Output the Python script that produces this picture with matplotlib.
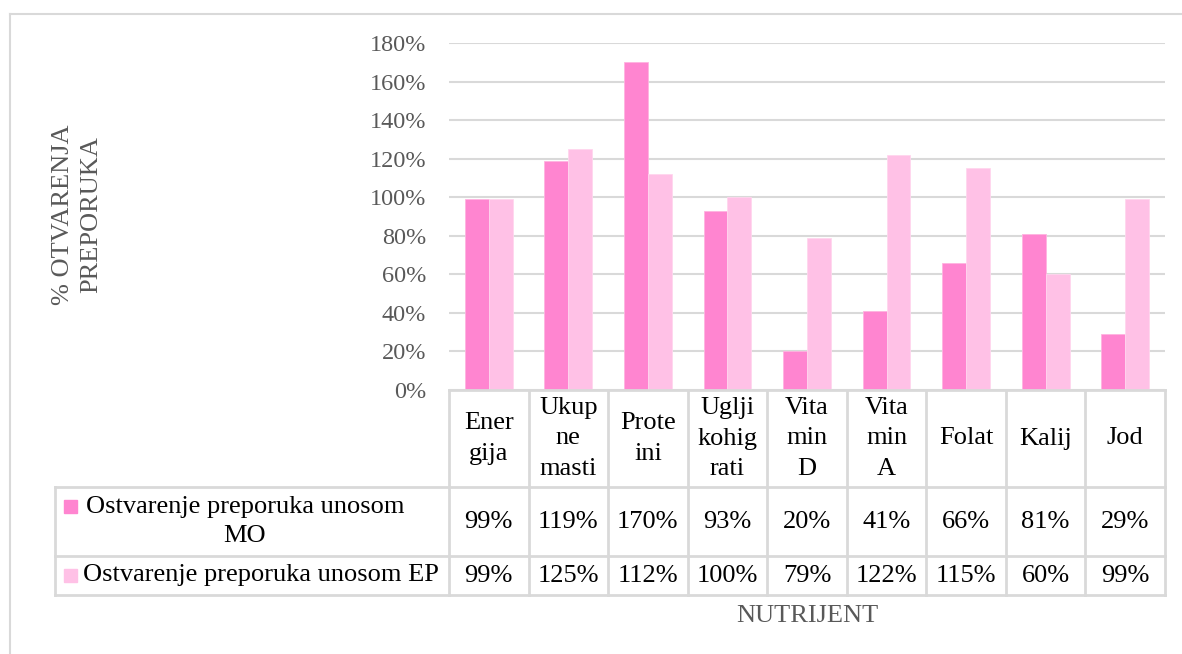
import numpy as np
import matplotlib.pyplot as plt
import matplotlib.transforms as mtransforms
from matplotlib.lines import Line2D
from matplotlib.patches import Rectangle

plt.rcParams['font.family'] = ['Liberation Serif', 'DejaVu Serif']

categories = ['Ener\ngija', 'Ukup\nne\nmasti', 'Prote\nini', 'Uglji\nkohig\nrati',
              'Vita\nmin\nD', 'Vita\nmin\nA', 'Folat', 'Kalij', 'Jod']
mo_values = [99, 119, 170, 93, 20, 41, 66, 81, 29]
ep_values = [99, 125, 112, 100, 79, 122, 115, 60, 99]
series_names = ['Ostvarenje preporuka unosom\nMO', 'Ostvarenje preporuka unosom EP']
y_ticks = [0, 20, 40, 60, 80, 100, 120, 140, 160, 180]

c_mo = '#FF85D0'
c_ep = '#FFC1E6'
c_grid = '#D9D9D9'
c_grey = '#595959'

W, H = 1182, 654
fig = plt.figure(figsize=(W / 100, H / 100), dpi=100)

def fx(px):
    return px / W

def fy(py):
    return 1 - py / H

# plot area
ax = fig.add_axes([fx(449), fy(390), fx(1165) - fx(449), fy(43) - fy(390)])
x = np.arange(len(categories))
bw = 0.3
ax.bar(x - bw / 2, mo_values, bw, color=c_mo, edgecolor='#FFB3E0', linewidth=0.6, zorder=3)
ax.bar(x + bw / 2, ep_values, bw, color=c_ep, edgecolor='#FFD6EE', linewidth=0.6, zorder=3)
ax.set_xlim(-0.5, len(categories) - 0.5)
ax.set_ylim(0, 180)
ax.set_yticks(y_ticks)
ax.set_yticklabels([f'{v}%' for v in y_ticks])
ax.yaxis.grid(True, color=c_grid, linewidth=1.5, zorder=0)
ax.set_xticks([])
ax.tick_params(axis='y', length=0, pad=16.5, labelsize=17.5, labelcolor=c_grey)
for s in ax.spines.values():
    s.set_visible(False)

# outer chart frame
fig.add_artist(Line2D([fx(10), 1], [fy(14), fy(14)], color=c_grid, lw=1.5))
fig.add_artist(Line2D([fx(10), fx(10)], [fy(14), 0], color=c_grid, lw=1.5))

# data table under the plot
tr = mtransforms.blended_transform_factory(ax.transData, fig.transFigure)
row_y = [fy(390), fy(487), fy(556), fy(595)]
n = len(categories)
tab_kw = dict(color=c_grid, lw=2)
# horizontal lines
fig.add_artist(Line2D([-0.5, n - 0.5], [row_y[0], row_y[0]], transform=tr, **tab_kw))
for yy in row_y[1:]:
    fig.add_artist(Line2D([fx(55), fx(1165)], [yy, yy], **tab_kw))
# vertical lines
for i in range(n + 1):
    fig.add_artist(Line2D([i - 0.5, i - 0.5], [row_y[0], row_y[3]], transform=tr, **tab_kw))
fig.add_artist(Line2D([fx(55), fx(55)], [row_y[1], row_y[3]], **tab_kw))

fs = 19
for i, lab in enumerate(categories):
    fig.text(i, (row_y[0] + row_y[1]) / 2, lab, transform=tr, ha='center', va='center',
             fontsize=fs, linespacing=1.5)
    fig.text(i, (row_y[1] + row_y[2]) / 2, f'{mo_values[i]}%', transform=tr,
             ha='center', va='center', fontsize=fs)
    fig.text(i, (row_y[2] + row_y[3]) / 2, f'{ep_values[i]}%', transform=tr,
             ha='center', va='center', fontsize=fs)

# legend keys in the table
fig.add_artist(Rectangle((fx(64), fy(513)), fx(13), fy(500) - fy(513), color=c_mo))
fig.add_artist(Rectangle((fx(64), fy(582)), fx(13), fy(569) - fy(582), color=c_ep))
fig.text(fx(245), (row_y[1] + row_y[2]) / 2, series_names[0], ha='center', va='center',
         fontsize=fs, linespacing=1.45)
fig.text(fx(83), (row_y[2] + row_y[3]) / 2, series_names[1], ha='left', va='center',
         fontsize=fs)

# axis titles
fig.text(fx(77), fy(215), '% OTVARENJA\nPREPORUKA', rotation=90, ha='center', va='center',
         fontsize=19, color=c_grey, linespacing=1.4)
fig.text(fx(807), fy(616), 'NUTRIJENT', ha='center', va='center', fontsize=19, color=c_grey)

fig.savefig('out.png', dpi=100)
